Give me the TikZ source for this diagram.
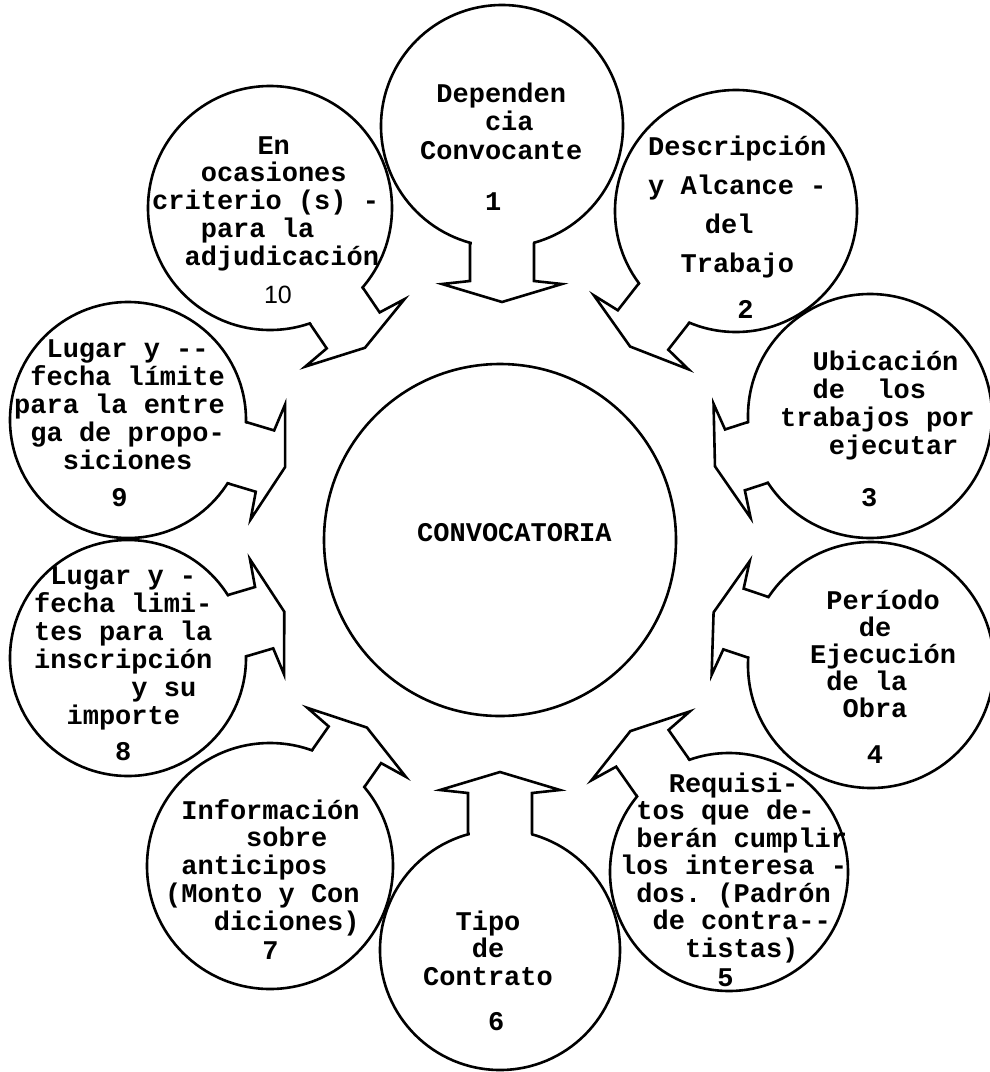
\documentclass[tikz,border=0pt]{standalone}
\usepackage{fontspec}
\setmonofont{Liberation Mono}
\setsansfont{Liberation Sans}

% block arrow leaving a circle: #1 name, #2 circle node, #3 radius,
% #4 direction (degrees), #5 distance from the circle centre to the barbs
\newcommand{\blockarrow}[5]{%
  \begin{scope}[shift={(#2.center)}, rotate=#4]
    \pgfmathsetmacro{\ua}{sqrt((#3-32)*(#3+32))}
    \fill[white] ({\ua-3},-30.5) -- ({#3+4},-30.5) -- ({#3+4},30.5) -- ({\ua-3},30.5) -- cycle;
    \coordinate (#1-tip) at ({#5+21},0);
    \draw[arrowline] (\ua,32) -- (#5,32) -- ({#5+3},60) -- (#1-tip)
      -- ({#5+3},-60) -- (#5,-32) -- (\ua,-32);
  \end{scope}}

% typewritten lines: #1 name, #2 left margin, #3 first baseline,
% #4 line step, #5 list of column/text pairs
\newcommand{\typed}[5]{%
  \foreach \col/\txt [count=\i] in {#5} {
    \node[tw] (#1-\i) at ({#2+\col*16.2}, {#3+(\i-1)*#4}) {\txt};
  }}

\begin{document}
\begin{tikzpicture}[x=1pt,y=-1pt,
  ring/.style={circle, draw=black, line width=2.6pt, inner sep=0pt},
  arrowline/.style={line width=2.6pt, line join=miter, miter limit=12},
  tw/.style={font=\ttfamily\bfseries\fontsize{27}{27}\selectfont, inner sep=0pt, anchor=base west},
]
\fill[white] (0,0) rectangle (990,1072);
\useasboundingbox (0,0) rectangle (990,1072);

% circles
\node[ring, minimum size=352pt] (C) at (500,540) {};
\node[ring, minimum size=242pt] (c1) at (502,126) {};
\node[ring, minimum size=242pt] (c2) at (736,211) {};
\node[ring, minimum size=244pt] (c3) at (870,416) {};
\node[ring, minimum size=246pt] (c4) at (871,665) {};
\node[ring, minimum size=238pt] (c5) at (729,872) {};
\node[ring, minimum size=240pt] (c6) at (500,950) {};
\node[ring, minimum size=246pt] (c7) at (270,866) {};
\node[ring, minimum size=236pt] (c8) at (128,658) {};
\node[ring, minimum size=236pt] (c9) at (128,420) {};
\node[ring, minimum size=244pt] (c10) at (270,208) {};

% arrows towards the centre
\blockarrow{a1}{c1}{121}{-90}{155}
\blockarrow{a2}{c2}{121}{-128}{151}
\blockarrow{a3}{c3}{122}{-162}{142}
\blockarrow{a4}{c4}{123}{161.5}{145}
\blockarrow{a5}{c5}{119}{125}{151}
\blockarrow{a6}{c6}{120}{90}{157}
\blockarrow{a7}{c7}{123}{55}{148}
\blockarrow{a8}{c8}{118}{16.5}{142}
\blockarrow{a9}{c9}{118}{-16.7}{143}
\blockarrow{a10}{c10}{122}{-55.8}{148}

% texts
\node[tw] (title) at (417,541) {CONVOCATORIA};

\typed{t1}{420}{102}{28.5}{1/Dependen, 4/cia, 0/Convocante}
\node[tw] (n1) at (420+4*16.2,210) {1};

\typed{t2}{648}{155}{39}{0/Descripción, 0/y Alcance -, 3.5/del, 2/Trabajo}
\node[tw] (n2) at (648+5.5*16.2,318) {2};

\typed{t3}{780}{370}{28}{2/Ubicación, 2/de~~los, 0/trabajos por, 3/ejecutar}
\node[tw] (n3) at (780+5*16.2,506) {3};

\typed{t4}{810}{609}{27}{1/Período, 3/de, 0/Ejecución, 1/de la, 2/Obra}
\node[tw] (n4) at (810+3.5*16.2,763) {4};

\typed{t5}{620}{792}{27.5}{3/Requisi-, 1/tos que de-, 1/berán cumplir, 0/los interesa -, 1/dos. (Padrón, 2/de contra-{}-, 4/tistas)}
\node[tw] (n5) at (620+6*16.2,986) {5};

\typed{t6}{423}{930}{27.5}{2/Tipo, 3/de, 0/Contrato}
\node[tw] (n6) at (423+4*16.2,1030) {6};

\typed{t7}{165}{819}{27.75}{1/Información, 5/sobre, 1/anticipos, 0/(Monto y Con, 3/diciones)}
\node[tw] (n7) at (165+6*16.2,959) {7};

\typed{t8}{34}{584}{28}{1/Lugar y -, 0/fecha limi-, 0/tes para la, 0/inscripción, 6/y su, 2/importe}
\node[tw] (n8) at (34+5*16.2,760) {8};

\typed{t9}{14}{357}{28}{2/Lugar y -{}-, 1/fecha límite, 0/para la entre, 1/ga de propo-, 3/siciones}
\node[tw] (n9) at (14+6*16.2,506) {9};

\typed{t10}{152}{154}{27.75}{6.5/En, 3/ocasiones, 0/criterio (s) -, 3/para la, 2/adjudicación}
\node[font=\sffamily\fontsize{25}{25}\selectfont, inner sep=0pt, anchor=base] (n10) at (278,303) {10};

\end{tikzpicture}
\end{document}
